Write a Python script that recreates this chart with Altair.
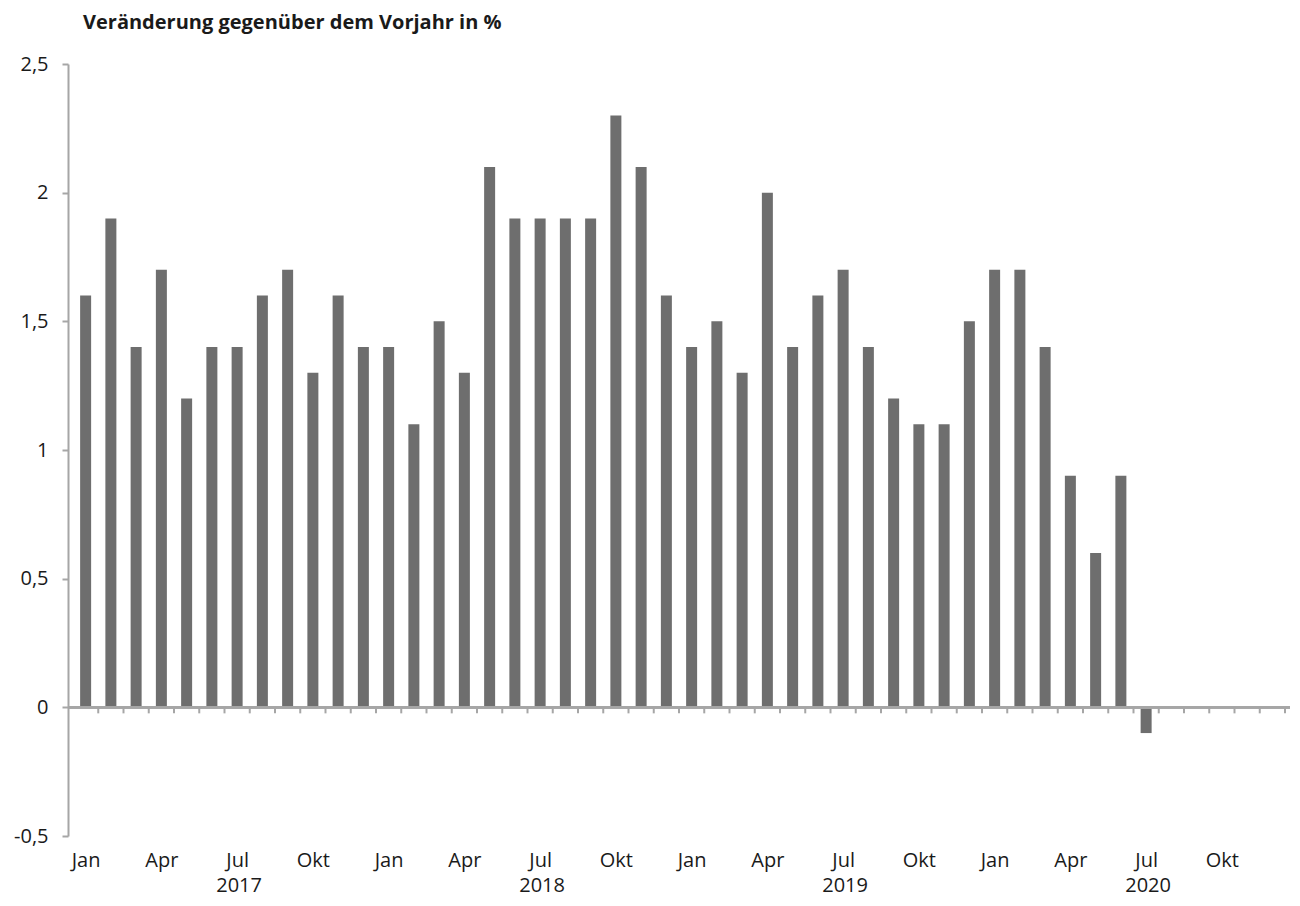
import altair as alt
import pandas as pd

months = ["Jan", "Feb", "Mrz", "Apr", "Mai", "Jun", "Jul", "Aug", "Sep", "Okt", "Nov", "Dez"]
years = [2017, 2018, 2019, 2020]
values_2017 = [1.6, 1.9, 1.4, 1.7, 1.2, 1.4, 1.4, 1.6, 1.7, 1.3, 1.6, 1.4]
values_2018 = [1.4, 1.1, 1.5, 1.3, 2.1, 1.9, 1.9, 1.9, 1.9, 2.3, 2.1, 1.6]
values_2019 = [1.4, 1.5, 1.3, 2.0, 1.4, 1.6, 1.7, 1.4, 1.2, 1.1, 1.1, 1.5]
values_2020 = [1.7, 1.7, 1.4, 0.9, 0.6, 0.9, -0.1, None, None, None, None, None]
shown_months = ["Jan", "Apr", "Jul", "Okt"]
y_ticks = [-0.5, 0, 0.5, 1, 1.5, 2, 2.5]

all_values = values_2017 + values_2018 + values_2019 + values_2020
rows = []
for yi, yr in enumerate(years):
    for mi, m in enumerate(months):
        idx = yi * 12 + mi
        rows.append({"pos": idx + 0.5, "month": m, "year": yr, "value": all_values[idx]})
df = pd.DataFrame(rows)
bars_df = df.dropna(subset=["value"])

label_positions = [r["pos"] for r in rows if r["month"] in shown_months]
label_expr_parts = [f"datum.value == {r['pos']} ? '{r['month']}'" for r in rows if r["month"] in shown_months]
label_expr = " : ".join(label_expr_parts) + " : ''"

year_df = pd.DataFrame([{"pos": r["pos"], "year": str(r["year"]), "base": -0.5}
                        for r in rows if r["month"] == "Jul"])

bounds_df = pd.DataFrame({"b": list(range(1, len(rows) + 1))})

FONT = "Open Sans"
GRAY = "#a6a6a6"
BAR = "#6e6e6e"
TXT = "#1a1a1a"
FS = 20

x_scale = alt.Scale(domain=[0, len(rows)], nice=False, zero=False)
y_scale = alt.Scale(domain=[-0.5, 2.5], nice=False)

bars = alt.Chart(bars_df).mark_bar(size=11, color=BAR).encode(
    x=alt.X("pos:Q", scale=x_scale, axis=alt.Axis(
        values=label_positions, labelExpr=label_expr, title=None, domain=False,
        ticks=False, grid=False, labelPadding=14, labelFontSize=FS, labelFont=FONT,
        labelColor=TXT, labelBaseline="top")),
    y=alt.Y("value:Q", scale=y_scale, axis=alt.Axis(
        values=y_ticks, title=None, grid=False, domainColor=GRAY, domainWidth=2,
        tickColor=GRAY, tickWidth=2, tickSize=6, labelPadding=14, labelFontSize=FS,
        labelFont=FONT, labelColor=TXT,
        labelExpr="replace(toString(datum.value), '.', ',')")),
    y2=alt.datum(0),
)

year_text = alt.Chart(year_df).mark_text(
    font=FONT, fontSize=FS, color=TXT, baseline="alphabetic", dy=56, dx=2
).encode(
    x=alt.X("pos:Q", scale=x_scale),
    y=alt.Y("base:Q", scale=y_scale),
    text="year:N",
)

zero_line = alt.Chart(bars_df).mark_rule(color=GRAY, strokeWidth=2).encode(
    y=alt.datum(0)
)

ticks = alt.Chart(bounds_df).mark_rule(color=GRAY, strokeWidth=2).encode(
    x=alt.X("b:Q", scale=x_scale),
    y=alt.datum(0),
    y2=alt.datum(-0.0234),
)

chart = alt.layer(bars, zero_line, ticks, year_text).properties(
    width=1222,
    height=772,
    title=alt.TitleParams(
        "Veränderung gegenüber dem Vorjahr in %", anchor="start", fontSize=20,
        fontWeight="bold", font=FONT, color=TXT, dx=15, offset=21,
        frame="group"),
    autosize=alt.AutoSizeParams(type="none"),
    padding={"left": 60, "top": 56, "right": 2, "bottom": 62},
).configure_view(stroke=None)

chart.save("out.html", embed_options={"renderer": "svg", "actions": False})
